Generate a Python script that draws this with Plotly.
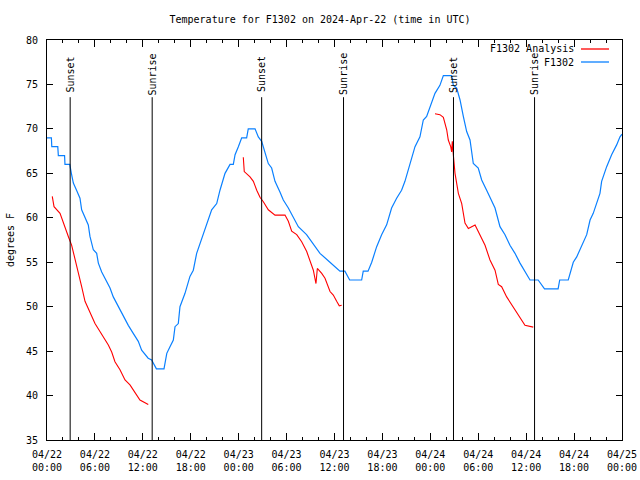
import pandas as pd
import plotly.graph_objects as go

BASE = pd.Timestamp("2024-04-22 00:00")

# F1302 observations (hours since 2024-04-22 00:00 UTC, degrees F)
obs_hours = [0.0, 0.55, 0.6, 1.35, 1.42, 2.2, 2.25, 2.85, 3.05, 3.3, 3.7, 4.13, 4.34, 4.76, 5.17,
             5.38, 5.8, 6.22, 6.43, 6.85, 7.47, 7.89, 8.3, 8.93, 9.55, 10.18, 10.8, 11.43, 11.85,
             12.67, 13.1, 13.7, 14.65, 15.0, 15.4, 15.82, 16.03, 16.44, 16.65, 17.28, 17.9, 18.32,
             18.74, 19.16, 19.57, 20.2, 20.62, 21.25, 21.66, 22.29, 22.92, 23.33, 23.55, 23.96,
             24.38, 25.0, 25.2, 26.05, 26.46, 26.88, 27.3, 27.71, 28.13, 28.55, 29.17, 29.59,
             30.22, 30.84, 31.47, 32.5, 33.35, 34.18, 35.43, 36.68, 37.3, 37.9, 39.4, 39.6, 40.2,
             40.66, 41.28, 41.9, 42.53, 43.15, 43.78, 44.4, 44.82, 45.45, 46.08, 46.7, 47.12,
             47.54, 48.17, 48.58, 49.2, 49.63, 50.67, 50.88, 51.3, 51.72, 52.13, 52.55, 52.97,
             53.38, 54.0, 54.43, 55.05, 55.68, 56.1, 56.72, 57.35, 57.97, 58.6, 59.23, 59.85,
             60.48, 61.5, 62.3, 64.0, 64.2, 65.27, 65.9, 66.33, 67.16, 67.58, 68.0, 68.4, 69.24,
             69.45, 70.08, 70.7, 71.33, 71.75, 72.0]
obs_temp = [69.0, 69.0, 68.0, 68.0, 67.0, 67.0, 66.0, 66.0, 65.0, 63.9, 63.1, 62.2, 60.9, 60.1, 59.2,
            57.9, 56.4, 56.0, 54.9, 53.9, 52.8, 52.1, 51.1, 50.0, 49.1, 47.9, 47.0, 46.1, 45.1,
            44.2, 44.0, 43.0, 43.0, 44.75, 45.5, 46.25, 47.75, 48.1, 50.0, 51.5, 53.4, 54.1,
            56.0, 57.1, 58.1, 59.75, 60.9, 61.6, 63.1, 65.0, 66.0, 66.0, 67.1, 68.0,
            69.0, 69.0, 70.0, 70.0, 69.1, 68.6, 67.4, 66.1, 65.6, 64.1, 62.9, 62.0,
            61.1, 60.0, 59.0, 58.1, 57.1, 56.0, 55.0, 54.0, 54.0, 53.0, 53.0, 54.0, 54.0,
            55.0, 56.75, 58.1, 59.2, 61.1, 62.2, 63.1, 64.1, 66.1, 68.0, 69.1, 71.0,
            71.4, 73.1, 74.0, 74.9, 76.0, 76.0, 74.9, 74.6, 73.25, 71.4, 69.7, 68.75,
            66.1, 65.6, 64.25, 63.1, 62.0, 61.1, 59.0, 58.1, 56.9, 56.0, 54.9, 53.9,
            53.0, 53.0, 52.0, 52.0, 53.0, 53.0, 55.0, 55.6, 57.3, 58.1, 59.75, 60.5, 62.75,
            64.1, 65.75, 67.1, 68.2, 69.1, 69.4]

# F1302 Analysis (None separates the three runs)
ana_hours = [0.66, 0.88, 1.63, 2.04, 2.67, 3.09, 3.5, 3.92, 4.34, 4.76, 5.38, 6.01, 6.63, 7.26, 7.68,
             8.1, 8.51, 9.14, 9.77, 10.39, 11.02, 11.64, 12.68, None,
             24.58, 24.7, 25.42, 25.84, 26.26, 26.67, 27.09, 27.71, 28.55, 29.8, 30.22, 30.64,
             31.27, 31.89, 32.52, 32.93, 33.35, 33.68, 33.85, 34.4, 34.81, 35.44, 35.85, 36.27,
             36.6, 36.9, None,
             48.58, 49.2, 49.63, 50.05, 50.25, 50.55, 50.67, 50.75, 50.88, 51.09, 51.51, 51.93,
             52.34, 52.76, 53.6, 54.0, 54.85, 55.47, 56.1, 56.51, 56.93, 57.56, 58.18, 58.8,
             59.43, 59.85, 60.89]
ana_temp = [62.4, 61.25, 60.5, 59.4, 57.9, 56.9, 55.25, 53.75, 52.25, 50.6, 49.25, 48.1, 47.2, 46.25,
            45.7, 44.9, 43.8, 42.9, 41.75, 41.2, 40.4, 39.5, 39.0, None,
            66.8, 65.2, 64.6, 64.1, 63.1, 62.3, 61.8, 60.9, 60.3, 60.3, 59.6, 58.5,
            58.1, 57.3, 56.2, 55.25, 54.1, 52.6, 54.3, 53.75, 53.2, 51.7, 51.3, 50.6,
            50.1, 50.15, None,
            71.7, 71.6, 71.3, 69.9, 68.75, 68.0, 67.4, 68.6, 67.1, 65.0, 62.75, 61.6,
            59.4, 58.8, 59.2, 58.4, 56.9, 55.25, 54.1, 52.5, 52.25, 51.1, 50.2, 49.4,
            48.5, 47.9, 47.7]

# Sun events (hours since base)
event_hours = [2.9, 13.17, 26.88, 37.13, 50.9, 61.05]
event_names = ["Sunset", "Sunrise", "Sunset", "Sunrise", "Sunset", "Sunrise"]

y_ticks = [35, 40, 45, 50, 55, 60, 65, 70, 75, 80]


def to_time(hours):
    return [None if h is None else BASE + pd.Timedelta(hours=h) for h in hours]


FONT = "DejaVu Sans Mono"
fig = go.Figure()
fig.add_trace(go.Scatter(x=to_time(obs_hours), y=obs_temp, mode="lines", name="F1302",
                         line=dict(color="#0a80ff", width=1.2), showlegend=False))
fig.add_trace(go.Scatter(x=to_time(ana_hours), y=ana_temp, mode="lines", name="F1302 Analysis",
                         line=dict(color="#ff0000", width=1.1), connectgaps=False, showlegend=False))

for h, name in zip(event_hours, event_names):
    t = BASE + pd.Timedelta(hours=h)
    fig.add_shape(type="line", xref="x", yref="paper", x0=t, x1=t, y0=0, y1=0.857,
                  line=dict(color="black", width=1))
    fig.add_annotation(x=t, xref="x", y=0.914, yref="paper", text=name, textangle=-90,
                       showarrow=False, font=dict(family=FONT, size=10, color="black"),
                       xanchor="center", yanchor="middle")

# legend (text right-aligned, sample line on the right, as in gnuplot)
legend_items = [("F1302 Analysis", "#ff0000"), ("F1302", "#0a80ff")]
for i, (label, col) in enumerate(legend_items):
    ypx = 49 + i * 13
    yp = (440 - ypx) / 400
    fig.add_annotation(x=(576 - 47) / 575, xref="paper", y=yp, yref="paper", text=label,
                       showarrow=False, xanchor="right", yanchor="middle",
                       font=dict(family=FONT, size=10, color="black"))
    fig.add_shape(type="line", xref="paper", yref="paper",
                  x0=(581 - 47) / 575, x1=(609 - 47) / 575, y0=yp, y1=yp,
                  line=dict(color=col, width=1.3))

fig.update_layout(
    width=640, height=480,
    margin=dict(l=47, r=18, t=40, b=40, autoexpand=False),
    paper_bgcolor="white", plot_bgcolor="white",
    title=dict(text="Temperature for F1302 on 2024-Apr-22 (time in UTC)", x=0.5, xanchor="center",
               y=1 - 19 / 480, yanchor="middle", font=dict(family=FONT, size=10, color="black")),
    font=dict(family=FONT, size=10, color="black"),
    showlegend=False,
)
fig.update_xaxes(
    range=[BASE, BASE + pd.Timedelta(hours=72)], automargin=False,
    tickformat="%m/%d<br>%H:%M", dtick=6 * 3600 * 1000, tick0=BASE,
    ticks="inside", ticklen=7, tickcolor="black", tickwidth=1,
    minor=dict(dtick=2 * 3600 * 1000, tick0=BASE, ticks="inside", ticklen=3, tickcolor="black"),
    showline=True, linecolor="black", linewidth=1, mirror="allticks",
    showgrid=False, zeroline=False, ticklabelstandoff=5,
    tickfont=dict(family=FONT, size=10, color="black"),
)
fig.update_yaxes(
    range=[35, 80], tickvals=y_ticks, ticktext=[str(v) for v in y_ticks], automargin=False,
    ticks="inside", ticklen=6, tickcolor="black",
    showline=True, linecolor="black", linewidth=1, mirror="allticks",
    showgrid=False, zeroline=False, ticklabelstandoff=6,
    title=dict(text="degrees F", font=dict(family=FONT, size=10, color="black"), standoff=9),
    tickfont=dict(family=FONT, size=10, color="black"),
)

fig.write_html("out.html")
